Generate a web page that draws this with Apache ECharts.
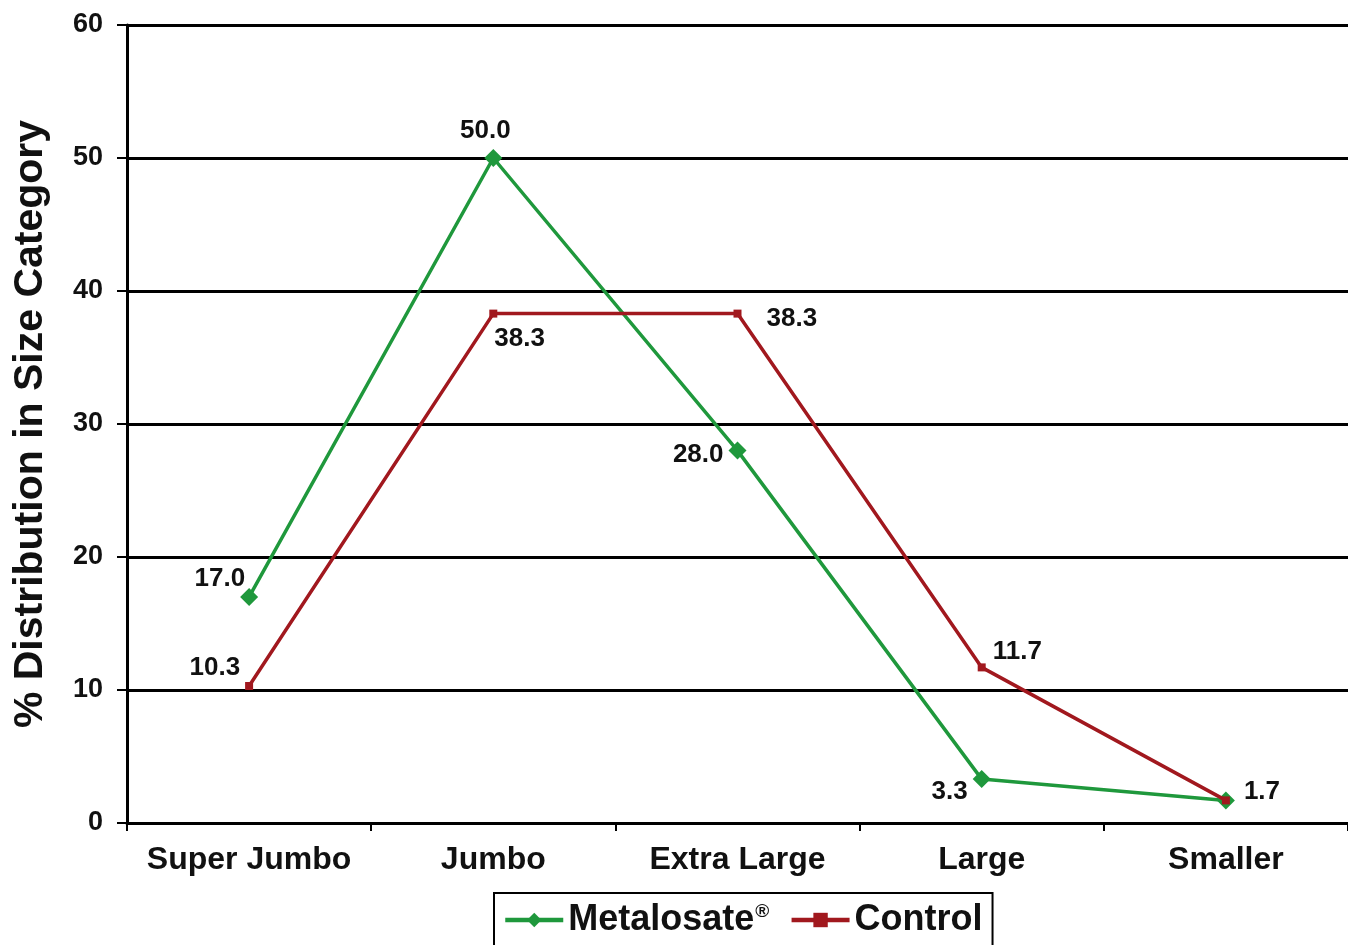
<!DOCTYPE html>
<html>
<head>
<meta charset="utf-8">
<script src="https://cdn.jsdelivr.net/npm/echarts@6/dist/echarts.min.js"></script>
<style>
  html, body { margin: 0; padding: 0; background: #fff; }
  #chart { width: 1348px; height: 945px; }
</style>
</head>
<body>
<div id="chart"></div>
<script>
// Size categories along the x axis
const categories = ['Super Jumbo', 'Jumbo', 'Extra Large', 'Large', 'Smaller'];
// % distribution per size category
const metalosate = [17.0, 50.0, 28.0, 3.3, 1.7];
const control = [10.3, 38.3, 38.3, 11.7, 1.7];
// Label placement for each point
const metalosatePos = ['left', 'top', 'left', 'left', 'right'];
const controlPos = ['left', 'right', 'right', 'right', 'right'];

const FONT = '"Liberation Sans", Arial, sans-serif';
const GREEN = '#1f983c';
const RED = '#a1181e';

function labelled(values, positions, extra) {
  return values.map((v, i) => ({
    value: v,
    label: Object.assign({ position: positions[i] }, (extra[i] || {}))
  }));
}

const labelBase = {
  show: true,
  color: '#111',
  fontFamily: FONT,
  fontWeight: 'bold',
  fontSize: 26,
  formatter: p => p.value.toFixed(1)
};

const chart = echarts.init(document.getElementById('chart'));
chart.setOption({
  animation: false,
  backgroundColor: '#fff',
  grid: { left: 127, top: 25, width: 1230, height: 798, containLabel: false },
  xAxis: {
    type: 'category',
    data: categories,
    boundaryGap: true,
    axisLine: { lineStyle: { color: '#000', width: 3 } },
    axisTick: { show: true, interval: 0, length: 8, lineStyle: { color: '#000', width: 2 } },
    axisLabel: {
      interval: 0, hideOverlap: false,
      color: '#111', fontFamily: FONT, fontWeight: 'bold', fontSize: 32, margin: 21
    },
    splitLine: { show: false }
  },
  yAxis: {
    type: 'value',
    min: 0, max: 60, interval: 10,
    name: '% Distribution in Size Category',
    nameLocation: 'middle',
    nameGap: 76,
    nameTextStyle: { color: '#111', fontFamily: FONT, fontWeight: 'bold', fontSize: 41 },
    axisLine: { show: true, lineStyle: { color: '#000', width: 3 } },
    axisTick: { show: true, inside: false, length: 10, lineStyle: { color: '#000', width: 2 } },
    axisLabel: { color: '#111', fontFamily: FONT, fontWeight: 'bold', fontSize: 27, margin: 24 },
    splitLine: { show: true, lineStyle: { color: '#000', width: 3 } }
  },
  legend: {
    left: 494, top: 893,
    padding: [9, 10, 30, 9],
    borderColor: '#000', borderWidth: 2,
    itemWidth: 58, itemHeight: 18, itemGap: 20,
    lineStyle: { width: 4.5 },
    textStyle: {
      color: '#111', fontFamily: FONT, fontWeight: 'bold', fontSize: 36,
      rich: {
        n: { color: '#111', fontFamily: FONT, fontWeight: 'bold', fontSize: 36 },
        s: { color: '#111', fontFamily: FONT, fontWeight: 'bold', fontSize: 19, verticalAlign: 'top', padding: [0, 0, 14, 1] }
      }
    },
    formatter: name => name === 'Metalosate' ? '{n|Metalosate}{s|®}' : '{n|' + name + '}',
    data: ['Metalosate', 'Control']
  },
  series: [
    {
      name: 'Control',
      type: 'line',
      data: labelled(control, controlPos, {
        0: { offset: [0, -18] },
        1: { offset: [-8, 25] },
        2: { offset: [20, 5] },
        3: { offset: [2, -16] },
        4: { show: false }
      }),
      color: RED,
      lineStyle: { color: RED, width: 3.5 },
      symbol: 'rect', symbolSize: 8,
      itemStyle: { color: RED },
      label: labelBase,
      z: 3
    },
    {
      name: 'Metalosate',
      type: 'line',
      data: labelled(metalosate, metalosatePos, {
        0: { offset: [10, -18] },
        1: { offset: [-8, 0] },
        2: { offset: [0, 4] },
        3: { offset: [0, 13] },
        4: { offset: [4, -9] }
      }),
      color: GREEN,
      lineStyle: { color: GREEN, width: 3.5 },
      symbol: 'diamond', symbolSize: 18,
      itemStyle: { color: GREEN },
      label: labelBase,
      z: 2
    }
  ]
});
</script>
</body>
</html>
